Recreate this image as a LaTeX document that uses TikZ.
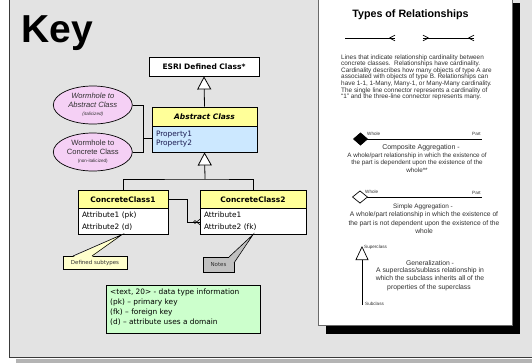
\documentclass[tikz,border=0pt]{standalone}
\usepackage{fontspec}
\setmainfont{Liberation Sans}
\newfontfamily\umlfont{DejaVu Sans}
\usetikzlibrary{arrows.meta,shapes.geometric}
\definecolor{panelgrey}{HTML}{E3E3E3}
\definecolor{panelshadow}{HTML}{B4B4B4}
\definecolor{panelline}{HTML}{3A3A3A}
\definecolor{sheetline}{HTML}{6A6A6A}
\definecolor{headyellow}{HTML}{FFFF99}
\definecolor{bodyblue}{HTML}{CCE8FF}
\definecolor{wormpink}{HTML}{F5D0F5}
\definecolor{notegreen}{HTML}{CCFFCC}
\definecolor{tipyellow}{HTML}{FFFFCC}
\definecolor{notegrey}{HTML}{C0C0C0}
\definecolor{inktext}{HTML}{303030}
\definecolor{propink}{HTML}{1A1A50}
\newcommand\fsz[1]{\fontsize{#1}{#1}\selectfont}
\begin{document}
\begin{tikzpicture}[x=1pt,y=-1pt,
  classhead/.style={draw=black, line width=0.8pt, fill=headyellow, inner sep=0pt,
    font=\umlfont\bfseries\fsz{7.5}},
  classbody/.style={draw=black, line width=0.8pt, fill=white, inner sep=0pt,
    align=left, font=\umlfont\fsz{7.4}},
  wormhole/.style={ellipse, draw=black, line width=0.7pt, fill=wormpink, inner sep=0pt,
    minimum width=79pt, minimum height=38pt, align=center, text=inktext,
    font=\fontsize{7.6}{8.4}\selectfont},
  link/.style={draw=black, line width=0.8pt},
  genarrow/.style={link, -{Triangle[fill=white, length=13pt, width=14pt]}},
  tipbox/.style={draw=black, line width=0.6pt, inner sep=0pt, font=\umlfont\fsz{5.5},
    text=inktext},
  paratext/.style={anchor=mid west, inner sep=0pt, text=inktext, font=\fsz{6.4}},
  sectext/.style={anchor=mid, inner sep=0pt, text=inktext},
  tinylabel/.style={anchor=mid west, inner sep=0pt, text=inktext, font=\fsz{4.6}},
  cardline/.style={line width=0.7pt, black},
]
\useasboundingbox (0,0) rectangle (532,362);

% grey key panel, its drop shadow, and the relationship sheet
\begin{scope}
  \clip (0,0) rectangle (532,362);
  \fill[panelshadow] (16,358.5) rectangle (545,370);
  \fill[panelgrey] (9,-10) rectangle (545,357);
  \draw[panelline, line width=0.9pt] (9,-10) -- (9,357) -- (545,357);
  \fill[black] (326,3) rectangle (520,334);
  \filldraw[fill=white, draw=sheetline, line width=0.7pt] (318,-10) rectangle (512,325);
\end{scope}

\node[anchor=base west, inner sep=0pt, font=\bfseries\fsz{39}] (key) at (21,42) {Key};

% class boxes
\node[classbody, fill=white, minimum width=110pt, minimum height=19pt, font=\umlfont\bfseries\fsz{7.5}]
  (esri) at (204,66.5) {ESRI Defined Class*};
\node[classhead, minimum width=105pt, minimum height=19pt] (abshead) at (204.5,116.5)
  {\itshape Abstract Class};
\node[classbody, fill=bodyblue, minimum width=105pt, minimum height=26pt, text width=97pt,
  text=propink, font=\umlfont\fontsize{7.4}{9.3}\selectfont] (absbody) at (204.5,139)
  {Property1\\Property2};

\node[classhead, minimum width=90pt, minimum height=18.5pt] (cc1h) at (123,199.25) {ConcreteClass1};
\node[classbody, minimum width=90pt, minimum height=25.5pt, text width=82pt,
  font=\umlfont\fontsize{7.4}{12.3}\selectfont] (cc1b) at (123,221.25)
  {Attribute1 (pk)\\Attribute2 (d)};
\node[classhead, minimum width=106pt, minimum height=18.5pt] (cc2h) at (253,199.25) {ConcreteClass2};
\node[classbody, minimum width=106pt, minimum height=25.5pt, text width=98pt,
  font=\umlfont\fontsize{7.4}{12.3}\selectfont] (cc2b) at (253,221.25)
  {Attribute1\\Attribute2 (fk)};

% wormholes
\node[wormhole] (wa) at (92.8,105)
  {\itshape Wormhole to\\\itshape Abstract Class\\{\fsz{4.6}\itshape (italicized)}};
\node[wormhole] (wc) at (92.8,152)
  {Wormhole to\\Concrete Class\\{\fsz{4.6}(non-italicized)}};

% generalization links
\draw[genarrow] (abshead.north) -- (esri.south);
\coordinate (subj) at (205,179);
\draw[link] (cc1h.north) |- (subj) -| (cc2h.north);
\draw[genarrow] (subj) -- (absbody.south);

% wormhole links
\coordinate (wj) at (143,138);
\draw[link] (wa.east) -| (wj) -- (wj -| absbody.west);
\draw[link] (wc.east) -| (wj);

% association with zero-or-many end
\coordinate (assoc) at (187,222);
\draw[link] (cc1h.east) -| (assoc) -- (assoc -| cc2b.west);
\draw[black, line width=0.6pt] (195,222) circle (1.5pt);
\draw[black, line width=0.6pt] (196.5,222) -- (200.6,218.8) (196.5,222) -- (200.6,225.2);

% callouts
\node[tipbox, fill=tipyellow, minimum width=64pt, minimum height=13pt] (subtypes) at (95,262.5)
  {Defined subtypes};
\fill[tipyellow] (73,257) -- (122,234.6) -- (92,257) -- cycle;
\draw[black, line width=0.6pt] (73,256) -- (122,234.6) -- (92,256);
\node[tipbox, fill=notegrey, minimum width=31pt, minimum height=15pt] (notes) at (218.5,264.5)
  {Notes};
\fill[notegrey] (229,257.5) -- (253,234.6) -- (234,263) -- cycle;
\draw[black, line width=0.6pt] (229,257) -- (253,234.6) -- (234,263);

% data type legend
\node[draw=black, line width=0.6pt, fill=notegreen, minimum width=154pt, minimum height=48pt,
  inner sep=0pt] (legend) at (183,309) {};
\node[anchor=north west, inner sep=0pt, align=left, font=\umlfont\fontsize{7.4}{10.3}\selectfont]
  (legendtext) at (110,288.2)
  {<text, 20> - data type information\\(pk) – primary key\\(fk) – foreign key\\(d) – attribute uses a domain};

% relationship sheet
\node[anchor=base, inner sep=0pt, font=\bfseries\fsz{10.7}] (title) at (410.5,17.3)
  {Types of Relationships};

\coordinate (oneA) at (345,38);  \coordinate (oneB) at (395,38);
\draw[cardline] (oneA) -- (oneB);
\draw[cardline] (389.5,38) -- (395,35.2) (389.5,38) -- (395,40.8);
\coordinate (manyA) at (423,38); \coordinate (manyB) at (474,38);
\draw[cardline] (manyA) -- (manyB);
\draw[cardline] (428.5,38) -- (423,35.2) (428.5,38) -- (423,40.8);
\draw[cardline] (468.5,38) -- (474,35.2) (468.5,38) -- (474,40.8);

\foreach \ln [count=\i from 0] in {
  {Lines that indicate relationship cardinality between},
  {concrete classes.\ \ Relationships have cardinality.},
  {Cardinality describes how many objects of type A are},
  {associated with objects of type B. Relationships can},
  {have 1-1, 1-Many, Many-1, or Many-Many cardinality.},
  {The single line connector represents a cardinality of},
  {“1” and the three-line connector represents many.}}
  \node[paratext] (card\i) at (341,{56.7+6.55*\i}) {\ln};

% composite aggregation
\coordinate (compW) at (353,139); \coordinate (compP) at (482,139);
\draw[cardline, {Diamond[length=15pt, width=13pt]}-] (compW) -- (compP);
\node[tinylabel] (compWl) at (367,133) {Whole};
\node[tinylabel] (compPl) at (472,133) {Part};
\node[sectext, font=\fsz{7}] (comp0) at (421,147.3) {Composite Aggregation -};
\node[sectext, font=\fsz{6.3}] (comp1) at (417,155) {A whole/part relationship in which the existence of};
\node[sectext, font=\fsz{6.3}] (comp2) at (417,162.3) {the part is dependent upon the existence of the};
\node[sectext, font=\fsz{6.3}] (comp3) at (417,170) {whole**};

% simple aggregation
\coordinate (simW) at (352,197); \coordinate (simP) at (482,197);
\draw[cardline, {Diamond[open, fill=white, length=16pt, width=13pt]}-] (simW) -- (simP);
\node[tinylabel] (simWl) at (365,190.5) {Whole};
\node[tinylabel] (simPl) at (472,192) {Part};
\node[sectext, font=\fsz{6.4}] (sim0) at (423,206) {Simple Aggregation -};
\node[sectext, font=\fsz{6.7}] (sim1) at (424,214) {A whole/part relationship in which the existence of};
\node[sectext, font=\fsz{6.7}] (sim2) at (424,222.7) {the part is not dependent upon the existence of the};
\node[sectext, font=\fsz{6.7}] (sim3) at (424,230.7) {whole};

% generalization
\coordinate (supc) at (362,246); \coordinate (subc) at (362,305);
\draw[cardline, -{Triangle[fill=white, length=14pt, width=13pt]}] (subc) -- (supc);
\node[tinylabel] (supl) at (364,246) {Superclass};
\node[tinylabel] (subl) at (365,303.3) {Subclass};
\node[sectext, font=\fsz{6.8}] (gen0) at (430,262.7) {Generalization -};
\node[sectext, font=\fsz{6.8}] (gen1) at (430,270) {A superclass/sublass relationship in};
\node[sectext, font=\fsz{6.8}] (gen2) at (430,278.3) {which the subclass inherits all of the};
\node[sectext, font=\fsz{6.8}] (gen3) at (429,286.7) {properties of the superclass};
\end{tikzpicture}
\end{document}
